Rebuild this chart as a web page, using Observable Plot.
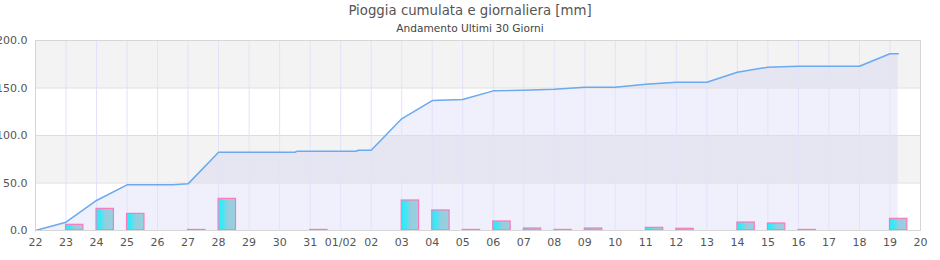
<!DOCTYPE html>
<html>
<head>
<meta charset="utf-8">
<script src="https://cdn.jsdelivr.net/npm/d3@7"></script>
<script src="https://cdn.jsdelivr.net/npm/@observablehq/plot@0.6"></script>
<style>
  body { margin: 0; background: #fff; font-family: "DejaVu Sans", sans-serif; }
  #wrap { position: relative; width: 940px; height: 260px; overflow: hidden; }
  .title { position: absolute; left: 0; width: 940px; text-align: center; color: #555; }
  #t1 { top: 3px; font-size: 13.3px; }
  #t2 { top: 22px; font-size: 10.6px; color: #444; }
  svg { position: absolute; left: 0; top: 0; overflow: visible; }
</style>
</head>
<body>
<div id="wrap">
  <div class="title" id="t1">Pioggia cumulata e giornaliera [mm]</div>
  <div class="title" id="t2">Andamento Ultimi 30 Giorni</div>
</div>
<script>
// Daily rain (mm), one value per day from 22 Jan to 19 Feb
const barDays = ["2025-01-22","2025-01-23","2025-01-24","2025-01-25","2025-01-26","2025-01-27","2025-01-28","2025-01-29","2025-01-30","2025-01-31",
  "2025-02-01","2025-02-02","2025-02-03","2025-02-04","2025-02-05","2025-02-06","2025-02-07","2025-02-08","2025-02-09","2025-02-10",
  "2025-02-11","2025-02-12","2025-02-13","2025-02-14","2025-02-15","2025-02-16","2025-02-17","2025-02-18","2025-02-19"];
const barValues = [0, 6.0, 22.8, 17.5, 0, 0.6, 33.3, 0, 0, 0.6,
  0, 0, 31.6, 21.1, 0.6, 9.5, 2.1, 0.6, 2.1, 0,
  2.8, 1.8, 0, 8.4, 7.4, 0.6, 0, 0, 12.3];

// Cumulative rain (mm)
const cumTimes = ["2025-01-22T00:00","2025-01-23T00:00","2025-01-24T00:00","2025-01-25T00:00","2025-01-26T12:00","2025-01-27T00:00",
  "2025-01-28T00:00","2025-01-30T12:00","2025-01-30T14:00","2025-02-01T12:00","2025-02-01T14:00","2025-02-02T00:00",
  "2025-02-03T00:00","2025-02-04T00:00","2025-02-05T00:00","2025-02-06T00:00","2025-02-07T00:00","2025-02-08T00:00",
  "2025-02-09T00:00","2025-02-10T00:00","2025-02-11T00:00","2025-02-12T00:00","2025-02-13T00:00","2025-02-14T00:00",
  "2025-02-15T00:00","2025-02-16T00:00","2025-02-18T00:00","2025-02-19T00:00","2025-02-19T06:30"];
const cumValues = [0, 8.7, 31.6, 48.1, 48.1, 49.1,
  82.4, 82.4, 83.5, 83.5, 84.5, 84.5,
  117.6, 136.8, 137.9, 147.0, 147.7, 148.7,
  150.8, 150.8, 154.0, 156.1, 156.1, 166.6,
  171.9, 172.9, 172.9, 186.0, 186.0];

// Tick labels
const tickDates = ["2025-01-22","2025-01-23","2025-01-24","2025-01-25","2025-01-26","2025-01-27","2025-01-28","2025-01-29","2025-01-30","2025-01-31",
  "2025-02-01","2025-02-02","2025-02-03","2025-02-04","2025-02-05","2025-02-06","2025-02-07","2025-02-08","2025-02-09","2025-02-10",
  "2025-02-11","2025-02-12","2025-02-13","2025-02-14","2025-02-15","2025-02-16","2025-02-17","2025-02-18","2025-02-19","2025-02-20"];
const tickLabels = ["22","23","24","25","26","27","28","29","30","31",
  "01/02","02","03","04","05","06","07","08","09","10",
  "11","12","13","14","15","16","17","18","19","20"];
const yTicks = [0, 50, 100, 150, 200];
const bandRanges = [[50, 100], [150, 200]];

const parse = s => new Date(s + (s.length === 10 ? "T00:00Z" : "Z"));
const DAY = 864e5;
const bars = barDays.map((d, i) => ({date: parse(d), value: barValues[i]})).filter(d => d.value > 0);
const cum = cumTimes.map((t, i) => ({date: parse(t), value: cumValues[i]}));
const ticks = tickDates.map(parse);
const labelOf = new Map(ticks.map((t, i) => [+t, tickLabels[i]]));
const bands = bandRanges.map(([a, b]) => ({y1: a, y2: b}));

const defs = () => {
  const g = d3.create("svg:defs");
  const lg = g.append("linearGradient").attr("id", "barGrad").attr("x1", "0").attr("x2", "1").attr("y1", "0").attr("y2", "0");
  [[0, "#22eefc"], [0.25, "#3ee8f6"], [0.55, "#99ccdd"], [1, "#92d2e2"]].forEach(([o, c]) =>
    lg.append("stop").attr("offset", o).attr("stop-color", c));
  return g.node();
};

const chart = Plot.plot({
  width: 940,
  height: 260,
  marginTop: 40,
  marginBottom: 30,
  marginLeft: 35,
  marginRight: 20,
  style: {fontFamily: "DejaVu Sans, sans-serif", fontSize: "11px", color: "#555", background: "transparent", overflow: "visible"},
  x: {type: "utc", domain: [ticks[0], ticks[ticks.length - 1]]},
  y: {domain: [0, 200]},
  marks: [
    defs,
    Plot.rect(bands, {x1: () => ticks[0], x2: () => ticks[ticks.length - 1], y1: "y1", y2: "y2", fill: "#f3f3f3"}),
    Plot.areaY(cum, {x: "date", y: "value", fill: "rgb(165,165,237)", fillOpacity: 0.17}),
    Plot.ruleY(yTicks.slice(1, -1), {stroke: "#dddddd", strokeWidth: 1}),
    Plot.ruleX(ticks.slice(1, -1), {stroke: "#e2e2fa", strokeWidth: 1}),
    Plot.rectY(bars, {x1: "date", x2: d => new Date(+d.date + 0.57 * DAY), y: "value", fill: "url(#barGrad)", stroke: "#ff77bb", strokeWidth: 1.2}),
    Plot.line(cum, {x: "date", y: "value", stroke: "#6aaaf0", strokeWidth: 1.5}),
    Plot.frame({stroke: "#d6d6d6", strokeWidth: 1}),
    Plot.axisY({ticks: yTicks, tickFormat: d3.format(".1f"), tickSize: 0, tickPadding: 8, label: null, fill: "#555"}),
    Plot.axisX({ticks: ticks, tickFormat: d => labelOf.get(+d), tickSize: 0, tickPadding: 8, label: null, fill: "#555"})
  ]
});
document.getElementById("wrap").prepend(chart);
</script>
</body>
</html>
